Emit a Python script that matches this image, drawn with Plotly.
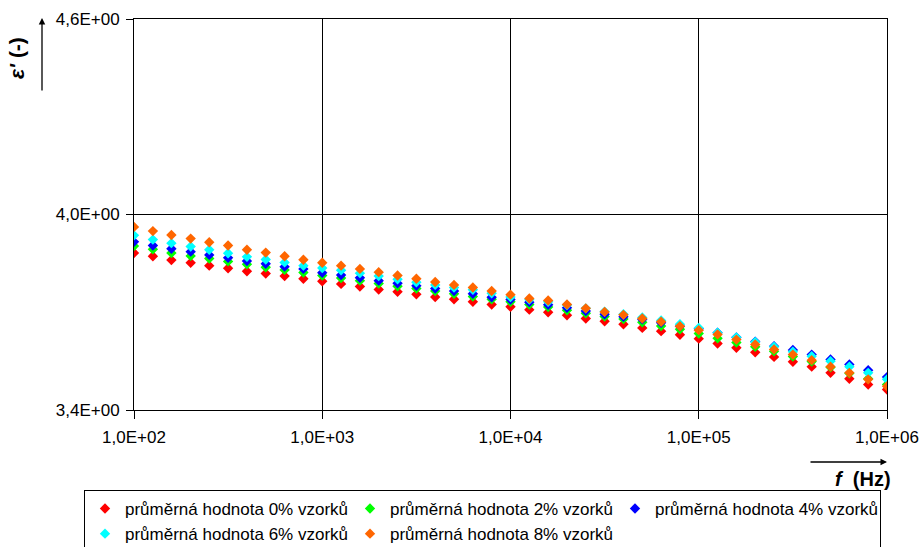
import plotly.graph_objects as go

# Measurement frequencies (Hz), 10 points per decade
freq_hz = [
    100, 126, 158, 200, 251, 316, 398, 501, 631, 794,
    1000, 1259, 1585, 1995, 2512, 3162, 3981, 5012, 6310, 7943,
    10000, 12589, 15849, 19953, 25119, 31623, 39811, 50119, 63096, 79433,
    100000, 125893, 158489, 199526, 251189, 316228, 398107, 501187, 630957, 794328,
    1000000,
]

# Mean relative permittivity eps' for each sample group
eps_0 = [
    3.882, 3.872, 3.860, 3.852, 3.843, 3.835, 3.826, 3.819, 3.811, 3.803,
    3.795, 3.787, 3.779, 3.770, 3.763, 3.755, 3.747, 3.740, 3.732, 3.724,
    3.717, 3.708, 3.700, 3.691, 3.681, 3.672, 3.663, 3.652, 3.642, 3.631,
    3.619, 3.604, 3.591, 3.577, 3.563, 3.548, 3.533, 3.514, 3.496, 3.478,
    3.463,
]
eps_2 = [
    3.903, 3.893, 3.882, 3.873, 3.865, 3.856, 3.847, 3.838, 3.830, 3.822,
    3.813, 3.805, 3.797, 3.788, 3.780, 3.773, 3.765, 3.757, 3.748, 3.740,
    3.732, 3.724, 3.716, 3.706, 3.697, 3.687, 3.679, 3.669, 3.658, 3.648,
    3.635, 3.620, 3.607, 3.594, 3.580, 3.564, 3.549, 3.531, 3.513, 3.496,
    3.478,
]
eps_4 = [
    3.916, 3.905, 3.895, 3.886, 3.876, 3.867, 3.857, 3.849, 3.840, 3.833,
    3.821, 3.814, 3.806, 3.797, 3.789, 3.781, 3.773, 3.765, 3.757, 3.746,
    3.739, 3.731, 3.723, 3.714, 3.704, 3.694, 3.686, 3.678, 3.668, 3.657,
    3.649, 3.637, 3.623, 3.610, 3.596, 3.584, 3.570, 3.555, 3.540, 3.522,
    3.501,
]
eps_6 = [
    3.936, 3.923, 3.912, 3.902, 3.892, 3.881, 3.870, 3.862, 3.853, 3.843,
    3.836, 3.829, 3.820, 3.811, 3.801, 3.792, 3.784, 3.776, 3.769, 3.758,
    3.747, 3.739, 3.732, 3.722, 3.712, 3.702, 3.694, 3.684, 3.675, 3.663,
    3.652, 3.637, 3.623, 3.609, 3.594, 3.579, 3.565, 3.550, 3.533, 3.514,
    3.494,
]
eps_8 = [
    3.962, 3.949, 3.937, 3.926, 3.915, 3.905, 3.892, 3.883, 3.872, 3.861,
    3.852, 3.843, 3.833, 3.823, 3.813, 3.803, 3.793, 3.784, 3.776, 3.765,
    3.754, 3.742, 3.736, 3.724, 3.712, 3.701, 3.692, 3.681, 3.671, 3.657,
    3.645, 3.632, 3.616, 3.601, 3.586, 3.570, 3.553, 3.533, 3.514, 3.494,
    3.473,
]

series_names = [
    "průměrná hodnota 0% vzorků",
    "průměrná hodnota 2% vzorků",
    "průměrná hodnota 4% vzorků",
    "průměrná hodnota 6% vzorků",
    "průměrná hodnota 8% vzorků",
]
series_values = [eps_0, eps_2, eps_4, eps_6, eps_8]
series_colors = ["#FF0000", "#00FF00", "#0000FF", "#00FFFF", "#FF6600"]

x_tick_vals = [1e2, 1e3, 1e4, 1e5, 1e6]
x_tick_text = ["1,0E+02", "1,0E+03", "1,0E+04", "1,0E+05", "1,0E+06"]
y_tick_vals = [3.4, 4.0, 4.6]
y_tick_text = ["3,4E+00", "4,0E+00", "4,6E+00"]

FONT = "Liberation Sans, Arial, sans-serif"

fig = go.Figure()
for name, vals, col in zip(series_names, series_values, series_colors):
    fig.add_trace(go.Scatter(
        x=freq_hz, y=vals, name=name, mode="markers",
        marker=dict(symbol="diamond", size=8, color=col, line=dict(width=0)),
    ))

W, H = 924, 547
L, R, T, B = 134, 37, 19, 137
pw, ph = W - L - R, H - T - B


def px(xp):
    return (xp - L) / pw


def py(yp):
    return (H - B - yp) / ph


fig.update_layout(
    width=W, height=H,
    margin=dict(l=L, r=R, t=T, b=B, pad=0, autoexpand=False),
    paper_bgcolor="white", plot_bgcolor="white",
    font=dict(family=FONT, size=17, color="black"),
    showlegend=True,
    legend=dict(
        orientation="h", x=px(84), y=py(490), xanchor="left", yanchor="top",
        bordercolor="black", borderwidth=1, bgcolor="white",
        font=dict(family=FONT, size=17, color="black"),
        entrywidth=220, entrywidthmode="pixels",
        tracegroupgap=0,
    ),
    xaxis=dict(
        type="log", range=[2, 6], tickvals=x_tick_vals, ticktext=x_tick_text,
        showgrid=True, gridcolor="black", gridwidth=1,
        showline=True, linecolor="black", linewidth=1, mirror=True,
        ticks="outside", ticklen=8, tickcolor="black", ticklabelstandoff=4,
        zeroline=False,
    ),
    yaxis=dict(
        range=[3.4, 4.6], tickvals=y_tick_vals, ticktext=y_tick_text,
        showgrid=True, gridcolor="black", gridwidth=1,
        showline=True, linecolor="black", linewidth=1, mirror=True,
        ticks="outside", ticklen=7, tickcolor="black", ticklabelstandoff=3,
        zeroline=False,
    ),
    annotations=[
        dict(text="<b><i>ε'</i> (-)</b>", xref="paper", yref="paper",
             x=px(16), y=py(58), xanchor="center", yanchor="middle",
             textangle=-90, showarrow=False,
             font=dict(family=FONT, size=21, color="black")),
        dict(text="", xref="paper", yref="paper", x=px(42), y=py(18),
             ax=0, ay=74, showarrow=True, arrowhead=2, arrowsize=1,
             arrowwidth=1.3, arrowcolor="black"),
        dict(text="<b><i>f</i>  (Hz)</b>", xref="paper", yref="paper",
             x=px(863), y=py(479), xanchor="center", yanchor="middle",
             showarrow=False,
             font=dict(family=FONT, size=20, color="black")),
        dict(text="", xref="paper", yref="paper", x=px(887), y=py(462),
             ax=-78, ay=0, showarrow=True, arrowhead=2, arrowsize=1,
             arrowwidth=1.3, arrowcolor="black"),
    ],
)

fig.write_html("out.html")
